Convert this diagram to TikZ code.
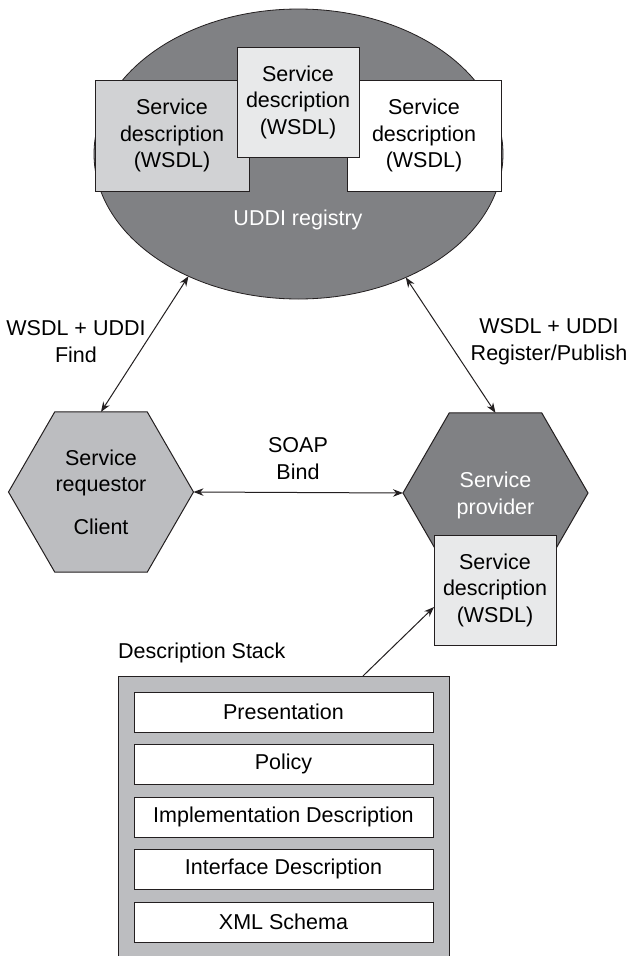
\documentclass[tikz,border=0pt]{standalone}
\usepackage{fontspec}
\setmainfont{Liberation Sans}
\usetikzlibrary{shapes.geometric,arrows.meta,calc}
\definecolor{ink}{RGB}{35,31,32}
\definecolor{darkgr}{RGB}{128,129,132}
\definecolor{midgr}{RGB}{188,189,192}
\definecolor{lightgr}{RGB}{209,210,212}
\definecolor{paleg}{RGB}{232,233,234}
\begin{document}
\begin{tikzpicture}[x=1pt,y=-1pt,
  font=\fontsize{21.5}{26.5}\selectfont,
  box/.style={draw=ink, line width=1pt, inner sep=0pt, outer sep=0pt, align=center},
  hexa/.style={regular polygon, regular polygon sides=6, minimum size=185pt,
     draw=ink, line width=1pt, inner sep=0pt, outer sep=0pt, align=center},
  lbl/.style={align=center, inner sep=0pt},
  tip/.tip={Stealth[length=10pt,width=7.5pt]},
  arr/.style={draw=ink, line width=1pt, tip-tip},
  arrone/.style={draw=ink, line width=1pt, -tip}]
\useasboundingbox (0,0) rectangle (630,956);
\fill[white] (0,0) rectangle (630,956);

% UDDI registry
\node[ellipse, draw=ink, line width=0.8pt, fill=darkgr, minimum width=409pt,
      minimum height=290pt, inner sep=0pt, outer sep=0pt] (uddi) at (298.5,154) {};
\node[lbl, text=white] (uddilbl) at (298,220) {UDDI registry};
\node[box, fill=lightgr, minimum width=154pt, minimum height=111pt] (sdleft) at (172,135.5)
  {Service\\description\\(WSDL)};
\node[box, fill=white, minimum width=154pt, minimum height=111pt] (sdright) at (424,135.5)
  {Service\\description\\(WSDL)};
\node[box, fill=paleg, minimum width=122pt, minimum height=110pt] (sdmid) at (298,102)
  {Service\\description\\(WSDL)};

% requestor / provider
\node[hexa, fill=midgr] (req) at (101,492) {Service\\requestor\\[16pt]Client};
\node[hexa, fill=darkgr] (prov) at (495.5,493) {};
\node[lbl, text=white] (provlbl) at (495.5,495.5) {Service\\provider};
\node[box, fill=paleg, minimum width=122pt, minimum height=110pt] (pdesc) at (495,590)
  {Service\\description\\(WSDL)};

% labels
\node[lbl] (findlbl) at (76,341.5) {WSDL + UDDI\\Find};
\node[lbl] (publbl) at (549,341.5) {WSDL + UDDI\\Register/Publish};
\node[lbl] (soaplbl) at (298,458.5) {SOAP\\Bind};

% arrows
\draw[arr] (uddi.228.6) -- (req.north);
\draw[arr] (uddi.311.4) -- (prov.north);
\draw[arr] (req.east) -- (prov.west);

% description stack
\node[lbl, anchor=west] (stacklbl) at (118,653) {Description Stack};
\node[fill=midgr, minimum width=331pt, minimum height=294pt, inner sep=0pt, outer sep=0pt]
  (stack) at (283.5,823) {};
\draw[ink, line width=1pt] (stack.south west) -- (stack.north west) -- (stack.north east) -- (stack.south east);
\node[box, fill=white, minimum width=299pt, minimum height=40pt] (l1) at (283.5,712) {Presentation};
\node[box, fill=white, minimum width=299pt, minimum height=40pt] (l2) at (283.5,764) {Policy};
\node[box, fill=white, minimum width=299pt, minimum height=40pt] (l3) at (283.5,817) {Implementation Description};
\node[box, fill=white, minimum width=299pt, minimum height=40pt] (l4) at (283.5,869) {Interface Description};
\node[box, fill=white, minimum width=299pt, minimum height=40pt] (l5) at (283.5,922) {XML Schema};
\coordinate (stacktop) at ($(stack.north west)!0.74!(stack.north east)$);
\draw[arrone] (stacktop) -- ([yshift=-17pt]pdesc.west);
\end{tikzpicture}
\end{document}
